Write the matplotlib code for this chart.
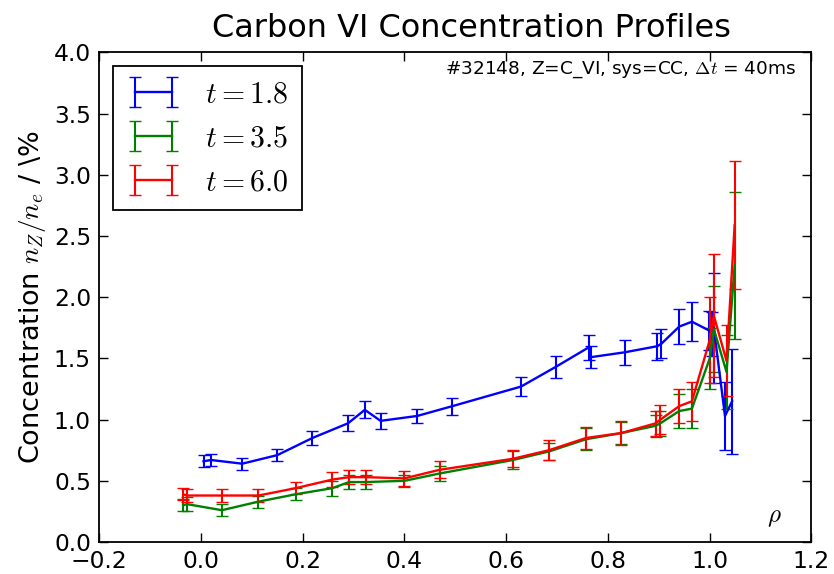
import numpy as np
import matplotlib
matplotlib.use("Agg")
import matplotlib.pyplot as plt

plt.rcParams["mathtext.fontset"] = "cm"
plt.rcParams["font.family"] = "DejaVu Sans"

# carbon VI concentration, n_Z/n_e in %, vs normalised radius rho
rho_18 = [0.005, 0.020, 0.081, 0.150, 0.219, 0.289, 0.322, 0.353, 0.425, 0.494,
          0.629, 0.697, 0.762, 0.766, 0.833, 0.897, 0.905, 0.940, 0.965, 0.998,
          1.004, 1.008, 1.030, 1.044]
conc_18 = [0.66, 0.67, 0.64, 0.71, 0.85, 0.97, 1.08, 0.99, 1.03, 1.11,
           1.27, 1.43, 1.59, 1.51, 1.55, 1.60, 1.62, 1.76, 1.80, 1.73,
           1.70, 1.75, 1.03, 1.15]
err_18 = [0.05, 0.05, 0.05, 0.05, 0.06, 0.065, 0.07, 0.065, 0.06, 0.07,
          0.08, 0.09, 0.10, 0.09, 0.10, 0.11, 0.12, 0.14, 0.16, 0.16,
          0.18, 0.45, 0.28, 0.43]

rho_35 = [-0.035, -0.028, 0.041, 0.113, 0.186, 0.258, 0.291, 0.324, 0.400, 0.469,
          0.613, 0.684, 0.757, 0.826, 0.894, 0.903, 0.940, 0.965, 1.000, 1.008,
          1.033, 1.049]
conc_35 = [0.30, 0.31, 0.26, 0.33, 0.39, 0.44, 0.49, 0.49, 0.50, 0.56,
           0.67, 0.74, 0.84, 0.89, 0.95, 0.97, 1.07, 1.09, 1.50, 1.74,
           1.39, 2.26]
err_35 = [0.05, 0.06, 0.05, 0.05, 0.05, 0.06, 0.06, 0.06, 0.05, 0.06,
          0.07, 0.07, 0.09, 0.09, 0.09, 0.10, 0.14, 0.16, 0.25, 0.35,
          0.30, 0.60]

rho_60 = [-0.035, -0.028, 0.041, 0.113, 0.186, 0.258, 0.291, 0.324, 0.400, 0.469,
          0.613, 0.684, 0.757, 0.826, 0.894, 0.903, 0.940, 0.965, 1.000, 1.008,
          1.033, 1.049]
conc_60 = [0.39, 0.38, 0.38, 0.38, 0.44, 0.51, 0.53, 0.53, 0.52, 0.59,
           0.68, 0.75, 0.85, 0.89, 0.97, 1.00, 1.11, 1.15, 1.65, 1.85,
           1.48, 2.59]
err_60 = [0.05, 0.05, 0.05, 0.05, 0.05, 0.06, 0.06, 0.06, 0.06, 0.07,
          0.07, 0.08, 0.09, 0.10, 0.10, 0.12, 0.14, 0.16, 0.35, 0.50,
          0.29, 0.52]

times = [1.8, 3.5, 6.0]
colors = ["#0000ff", "#008000", "#ff0000"]
profiles = [(rho_18, conc_18, err_18), (rho_35, conc_35, err_35),
            (rho_60, conc_60, err_60)]

fig = plt.figure(figsize=(8.34, 5.74), dpi=100)
ax = fig.add_axes([0.119, 0.0557, 0.854, 0.853])

for t, c, (r, n, e) in zip(times, colors, profiles):
    ax.errorbar(r, n, yerr=e, color=c, lw=1.7, elinewidth=1.5,
                capsize=4.3, capthick=1.0, label=r"$t = %.1f$" % t)

ax.set_xlim(-0.2, 1.2)
ax.set_ylim(0.0, 4.0)
ax.set_xticks(np.arange(-0.2, 1.21, 0.2))
ax.set_yticks(np.arange(0.0, 4.01, 0.5))
ax.tick_params(direction="in", top=True, right=True, length=6.5, width=1,
               labelsize=16.8, pad=6)
for s in ax.spines.values():
    s.set_linewidth(1.3)

ax.set_title("Carbon VI Concentration Profiles", fontsize=23, pad=11, x=0.522)
ax.set_ylabel(r"Concentration $n_Z/n_e$ / \%", fontsize=19.5)
ax.set_xlabel(r"$\rho$", fontsize=18)
ax.xaxis.set_label_coords(0.948, 0.075)
ax.text(0.979, 0.985, r"#32148, Z=C_VI, sys=CC, $\Delta t$ = 40ms",
        transform=ax.transAxes, ha="right", va="top", fontsize=13.3)

leg = ax.legend(loc="upper left", numpoints=2, fontsize=21.5, fancybox=False,
                handlelength=1.85, handletextpad=0.8, borderaxespad=0.45,
                labelspacing=0.5, borderpad=0.45)
leg.get_frame().set_edgecolor("black")
leg.get_frame().set_linewidth(1.3)
leg.get_frame().set_alpha(1.0)

fig.savefig("out.png", dpi=100)
